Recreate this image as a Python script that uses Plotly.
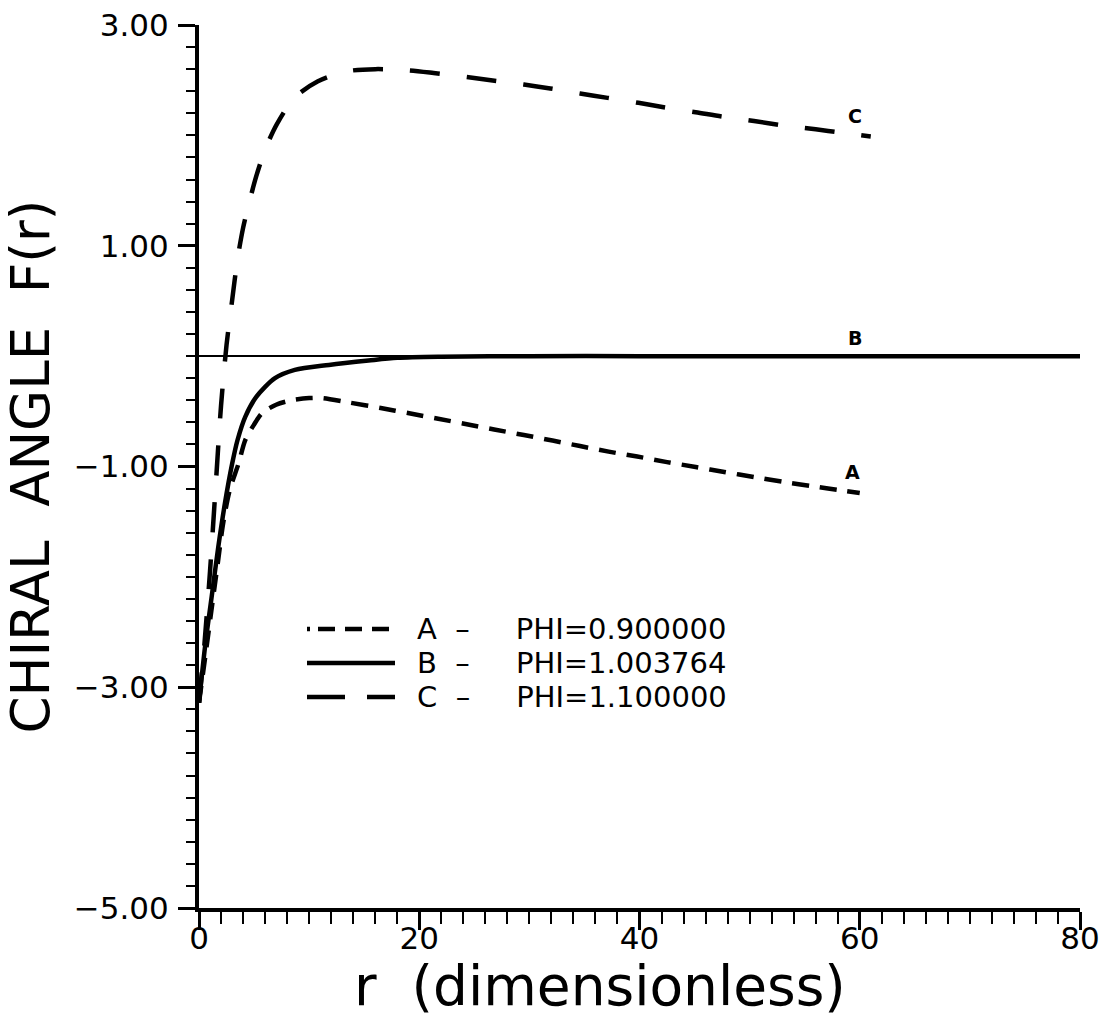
import plotly.graph_objects as go

# ---- data ----
r_A = [0, 0.6, 1.2, 1.7, 2.2, 2.8, 3.6, 4.2, 5.0, 5.7, 7.0, 8.4, 10.0, 11.2, 13.6, 16.5,
       19.2, 21.6, 24.2, 26.8, 29.5, 32.1, 34.6, 37.2, 39.8, 42.5, 45.1, 47.7, 50.4,
       53.1, 55.8, 58.6, 60.0]
F_A = [-3.14, -2.70, -2.25, -1.88, -1.51, -1.21, -0.97, -0.76, -0.62, -0.52, -0.44, -0.40,
       -0.38, -0.38, -0.42, -0.47, -0.52, -0.565, -0.615, -0.665, -0.715, -0.765, -0.815,
       -0.865, -0.91, -0.96, -1.005, -1.05, -1.095, -1.14, -1.18, -1.22, -1.24]

r_B = [0, 0.55, 1.15, 1.75, 2.36, 3.0, 3.5, 4.2, 5.2, 6.9, 8.7, 11.8, 15.4, 18.0, 22.0,
       30.0, 40.0, 50.0, 60.0, 70.0, 80.0]
F_B = [-3.14, -2.63, -2.18, -1.73, -1.33, -0.98, -0.76, -0.55, -0.37, -0.20, -0.125,
       -0.08, -0.04, -0.015, -0.005, 0.0, 0.0, 0.0, 0.0, 0.0, 0.0]

r_C = [0, 0.5, 1.0, 1.5, 2.0, 2.5, 3.0, 3.5, 4.0, 4.5, 5.2, 6.0, 7.06, 8.66, 10.8, 13.4,
       16.0, 18.9, 21.3, 26.5, 29.5, 31.9, 34.6, 37.1, 39.9, 42.2, 45.1, 47.5, 50.4, 53.0,
       56.0, 58.3, 61.0]
F_C = [-3.14, -2.60, -1.95, -1.20, -0.45, 0.10, 0.50, 0.88, 1.16, 1.37, 1.63, 1.87, 2.10,
       2.34, 2.49, 2.58, 2.60, 2.59, 2.565, 2.50, 2.46, 2.425, 2.38, 2.34, 2.295, 2.255,
       2.21, 2.17, 2.13, 2.09, 2.055, 2.025, 1.99]

series_names = ["A", "B", "C"]
NB = "\u00a0"
legend_texts = ["A" + NB * 2 + "–" + NB * 5 + "PHI=0.900000",
                "B" + NB * 2 + "–" + NB * 5 + "PHI=1.003764",
                "C" + NB * 2 + "–" + NB * 5 + "PHI=1.100000"]
label_r = [59.3, 59.6, 59.6]
label_F = [-1.05, 0.16, 2.18]

x_title = "r" + NB * 2 + "(dimensionless)"
y_title = "CHIRAL" + NB * 2 + "ANGLE" + NB * 2 + "F(r)"

FONT = "DejaVu Sans"
dashes = ["17px,11px", "solid", "30px,27px"]
legend_dashes = ["3px,8px,17px,10px,17px,10px,17px", "solid", "38px,22px"]

# plot area in pixels (for placing the hand-made legend / x title)
L, R, T, B = 199, 1080, 25, 908
def px_x(p):
    return (p - L) / (R - L)
def px_y(p):
    return 1 - (p - T) / (B - T)

fig = go.Figure()
datasets = [(r_A, F_A), (r_B, F_B), (r_C, F_C)]
for (rv, fv), nm, ds in zip(datasets, series_names, dashes):
    fig.add_trace(go.Scatter(x=rv, y=fv, mode="lines", name=nm, showlegend=False,
                             line=dict(color="black", width=4.5, dash=ds, shape="spline",
                                       smoothing=0.8)))

for lab, lx, ly in zip(series_names, label_r, label_F):
    fig.add_annotation(x=lx, y=ly, text="<b>%s</b>" % lab, showarrow=False,
                       font=dict(family=FONT, size=19, color="black"))

# legend block (inside the plot, lower left)
row_y = [629, 663, 697]
legend_end = [389, 395, 395]
for txt, ds, yy, xe in zip(legend_texts, legend_dashes, row_y, legend_end):
    fig.add_shape(type="line", xref="paper", yref="paper",
                  x0=px_x(307), x1=px_x(xe), y0=px_y(yy), y1=px_y(yy),
                  line=dict(color="black", width=4.5, dash=ds))
    fig.add_annotation(xref="paper", yref="paper", x=px_x(416), y=px_y(yy),
                       xanchor="left", yanchor="middle", text=txt, showarrow=False,
                       borderpad=0, font=dict(family=FONT, size=29, color="black"))

# x-axis title
fig.add_annotation(xref="paper", yref="paper", x=px_x(600), y=px_y(1019),
                   xanchor="center", yanchor="bottom", text=x_title, showarrow=False,
                   borderpad=0, font=dict(family=FONT, size=55, color="black"))

axis_common = dict(showline=True, linewidth=4, linecolor="black", showgrid=False,
                   ticks="outside", tickcolor="black", tickwidth=3, mirror=False)

fig.update_xaxes(range=[0, 80], tickmode="linear", tick0=0, dtick=20, ticklen=18,
                 ticklabelstandoff=-18,
                 tickfont=dict(family=FONT, size=31, color="black"),
                 minor=dict(dtick=2, tick0=0, ticklen=12, tickwidth=2, ticks="outside",
                            tickcolor="black"),
                 zeroline=False, **axis_common)
fig.update_yaxes(range=[-5, 3], tickmode="linear", tick0=-5, dtick=2, tickformat=".2f",
                 ticklen=17, ticklabelstandoff=3,
                 tickfont=dict(family=FONT, size=31, color="black"),
                 minor=dict(dtick=0.2, tick0=-5, ticklen=9, tickwidth=2, ticks="outside",
                            tickcolor="black"),
                 title=dict(text=y_title, font=dict(family=FONT, size=53, color="black"),
                            standoff=41),
                 zeroline=True, zerolinecolor="black", zerolinewidth=2, **axis_common)

fig.update_layout(
    width=1102, height=1020,
    margin=dict(l=L, r=1102 - R, t=T, b=1020 - B, autoexpand=False),
    plot_bgcolor="white", paper_bgcolor="white",
    font=dict(family=FONT, color="black"),
    showlegend=False,
)

fig.write_html("out.html", config={"displayModeBar": False},
               post_script="document.body.style.margin='0';document.body.style.overflow='hidden';")
